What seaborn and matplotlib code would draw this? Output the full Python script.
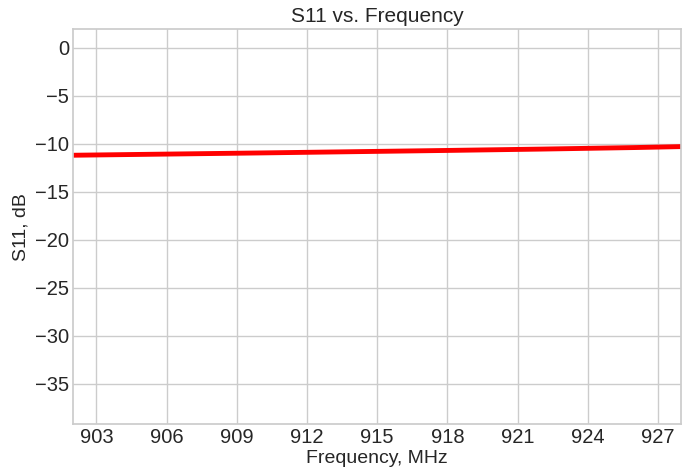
import matplotlib
matplotlib.use("Agg")
import matplotlib.pyplot as plt
import seaborn as sns
import pandas as pd

freq_mhz = [902, 906, 910, 914, 918, 922, 926, 928]
s11_db = [-11.2, -11.08, -10.96, -10.83, -10.7, -10.56, -10.4, -10.3]
x_ticks = [903, 906, 909, 912, 915, 918, 921, 924, 927]
y_ticks = [0, -5, -10, -15, -20, -25, -30, -35]

sns.set_theme(style="whitegrid", font_scale=1.0)
plt.rcParams['font.family'] = ['Liberation Sans', 'DejaVu Sans']

df = pd.DataFrame({"f": freq_mhz, "s": s11_db})
fig, ax = plt.subplots(figsize=(6.96, 4.74), dpi=100)
sns.lineplot(data=df, x="f", y="s", ax=ax, color="red", linewidth=3.5)
ax.set_xlim(902, 928)
ax.set_ylim(-39.2, 1.95)
ax.set_xticks(x_ticks)
ax.set_yticks(y_ticks)
ax.tick_params(labelsize=14.5, colors="#262626", length=0, pad=3)
ax.set_xlabel("Frequency, MHz", fontsize=14, labelpad=2)
ax.set_ylabel("S11, dB", fontsize=14, labelpad=4)
ax.set_title("S11 vs. Frequency", fontsize=15, pad=5)
fig.subplots_adjust(left=0.105, right=0.979, top=0.939, bottom=0.105)
fig.savefig("out.png", dpi=100)
